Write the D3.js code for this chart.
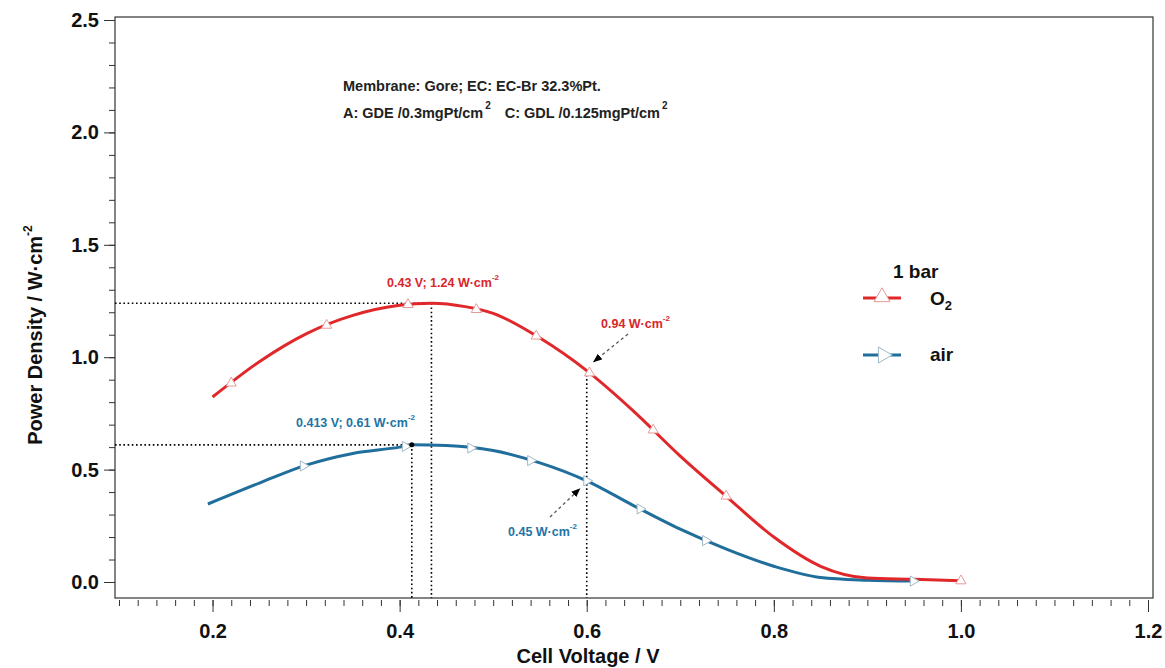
<!DOCTYPE html>
<meta charset="utf-8">
<style>
body { margin: 0; background: #fff; }
text { font-family: "Liberation Sans", Arial, sans-serif; font-weight: bold; }
.dot-line { stroke: #000; stroke-width: 1.6; stroke-dasharray: 1.6,2.6; fill: none; }
</style>
<body>
<svg width="1165" height="668"></svg>
<script src="https://d3js.org/d3.v7.min.js"></script>
<script>
// O2 curve, 1 bar (voltage / power density)
var o2_volt  = [0.20, 0.25, 0.30, 0.35, 0.40, 0.434, 0.47, 0.50, 0.55, 0.60, 0.65, 0.70, 0.75, 0.80, 0.85, 0.90, 0.95, 1.00];
var o2_power = [0.823, 0.98, 1.104, 1.186, 1.231, 1.240, 1.225, 1.195, 1.085, 0.94, 0.76, 0.56, 0.378, 0.20, 0.07, 0.018, 0.012, 0.005];
// air curve
var air_volt  = [0.195, 0.25, 0.30, 0.35, 0.40, 0.413, 0.45, 0.50, 0.55, 0.60, 0.65, 0.70, 0.75, 0.80, 0.85, 0.90, 0.95];
var air_power = [0.347, 0.44, 0.52, 0.572, 0.60, 0.61, 0.607, 0.585, 0.53, 0.45, 0.34, 0.235, 0.145, 0.07, 0.02, 0.008, 0.004];

// marker positions
var o2_mark_volt  = [0.22, 0.322, 0.409, 0.482, 0.546, 0.603, 0.671, 0.749, 1.0];
var o2_mark_power = [0.885, 1.142, 1.234, 1.212, 1.094, 0.93, 0.676, 0.382, 0.005];
var air_mark_volt  = [0.297, 0.406, 0.476, 0.54, 0.60, 0.657, 0.727, 0.949];
var air_mark_power = [0.516, 0.603, 0.596, 0.54, 0.45, 0.325, 0.184, 0.004];

var x_ticks = [0.2, 0.4, 0.6, 0.8, 1.0, 1.2];
var y_ticks = [0.0, 0.5, 1.0, 1.5, 2.0, 2.5];

// highlighted points
var o2_peak  = {v: 0.434, p: 1.24, label: "0.43 V; 1.24 W·cm"};
var air_peak = {v: 0.413, p: 0.61, label: "0.413 V; 0.61 W·cm"};
var o2_at06  = {v: 0.6, p: 0.94, label: "0.94 W·cm"};
var air_at06 = {v: 0.6, p: 0.45, label: "0.45 W·cm"};

var red = "#e0282b", blue = "#1f6e9c";
var red_txt = "#d9262b", blue_txt = "#2374a6";

var svg = d3.select("svg");

var frame = {left: 115, top: 17, right: 1153, bottom: 598};

var x = d3.scaleLinear().domain([0.1, 1.2]).range([119, 1148]);
var y = d3.scaleLinear().domain([0, 2.5]).range([582, 20]);

// frame
svg.append("rect")
  .attr("x", frame.left).attr("y", frame.top)
  .attr("width", frame.right - frame.left).attr("height", frame.bottom - frame.top)
  .style("fill", "none").style("stroke", "#333").style("stroke-width", 1.2);

// y axis, minor + major ticks
var y_minor = d3.range(0, 25.5, 1).map(function(d) { return d / 10; });
svg.append("g")
  .attr("transform", "translate(" + frame.left + ",0)")
  .call(d3.axisLeft(y).tickValues(y_minor).tickSize(6).tickFormat(""))
  .call(function(g) { g.select(".domain").remove(); });
var yAx = svg.append("g")
  .attr("transform", "translate(" + frame.left + ",0)")
  .call(d3.axisLeft(y).tickValues(y_ticks).tickSize(11).tickPadding(5).tickFormat(d3.format(".1f")));
yAx.select(".domain").remove();
yAx.selectAll("text").style("font-size", "20px").style("fill", "#111")
  .style("font-family", '"Liberation Sans", Arial, sans-serif').style("font-weight", "bold");

// x axis
var x_minor = d3.range(5, 60.5, 1).map(function(d) { return d / 50; });
svg.append("g")
  .attr("transform", "translate(0," + (frame.bottom + 2) + ")")
  .call(d3.axisBottom(x).tickValues(x_minor).tickSize(6).tickFormat(""))
  .call(function(g) { g.select(".domain").remove(); });
var xAx = svg.append("g")
  .attr("transform", "translate(0," + (frame.bottom + 2) + ")")
  .call(d3.axisBottom(x).tickValues(x_ticks).tickSize(12).tickPadding(12).tickFormat(d3.format(".1f")));
xAx.select(".domain").remove();
xAx.selectAll("text").style("font-size", "20px").style("fill", "#111")
  .style("font-family", '"Liberation Sans", Arial, sans-serif').style("font-weight", "bold");
svg.selectAll(".tick line").style("stroke", "#333");

// axis titles
svg.append("text")
  .attr("x", 588).attr("y", 663)
  .attr("text-anchor", "middle")
  .style("font-size", "20px").style("fill", "#111")
  .text("Cell Voltage / V");

var ytitle = svg.append("text")
  .attr("transform", "translate(42,335) rotate(-90)")
  .attr("text-anchor", "middle")
  .style("font-size", "20px").style("fill", "#111");
ytitle.append("tspan").text("Power Density / W·cm");
ytitle.append("tspan").attr("dy", -10).style("font-size", "12px").text("-2");

// info text
svg.append("text").attr("x", 343).attr("y", 91)
  .style("font-size", "14.5px").style("fill", "#222")
  .text("Membrane: Gore; EC: EC-Br 32.3%Pt.");
var info2 = svg.append("text").attr("x", 343).attr("y", 118)
  .style("font-size", "14.5px").style("fill", "#222");
info2.append("tspan").text("A: GDE /0.3mgPt/cm");
info2.append("tspan").attr("dy", -9).attr("dx", 2).style("font-size", "10px").text("2");
info2.append("tspan").attr("dy", 9).attr("dx", 14).text("C: GDL /0.125mgPt/cm");
info2.append("tspan").attr("dy", -9).attr("dx", 2).style("font-size", "10px").text("2");

// dotted guide lines
svg.append("line").attr("class", "dot-line")
  .attr("x1", frame.left).attr("y1", y(o2_peak.p)).attr("x2", x(o2_peak.v)).attr("y2", y(o2_peak.p));
svg.append("line").attr("class", "dot-line")
  .attr("x1", x(o2_peak.v)).attr("y1", y(o2_peak.p)).attr("x2", x(o2_peak.v)).attr("y2", frame.bottom);
svg.append("line").attr("class", "dot-line")
  .attr("x1", frame.left).attr("y1", y(air_peak.p)).attr("x2", x(air_peak.v)).attr("y2", y(air_peak.p));
svg.append("line").attr("class", "dot-line")
  .attr("x1", x(air_peak.v)).attr("y1", y(air_peak.p)).attr("x2", x(air_peak.v)).attr("y2", frame.bottom);
svg.append("line").attr("class", "dot-line")
  .attr("x1", x(o2_at06.v)).attr("y1", y(o2_at06.p)).attr("x2", x(o2_at06.v)).attr("y2", frame.bottom);

// curves
var line = d3.line()
  .x(function(d) { return x(d[0]); })
  .y(function(d) { return y(d[1]); })
  .curve(d3.curveMonotoneX);

var o2_data = o2_volt.map(function(v, i) { return [v, o2_power[i]]; });
var air_data = air_volt.map(function(v, i) { return [v, air_power[i]]; });

svg.append("path").datum(air_data).attr("d", line)
  .style("fill", "none").style("stroke", blue).style("stroke-width", 3);
svg.append("path").datum(o2_data).attr("d", line)
  .style("fill", "none").style("stroke", red).style("stroke-width", 3);

// markers
var triUp = d3.symbol().type(d3.symbolTriangle).size(45);
svg.selectAll(".o2mark")
  .data(o2_mark_volt.map(function(v, i) { return [v, o2_mark_power[i]]; }))
  .enter().append("path")
  .attr("d", triUp)
  .attr("transform", function(d) { return "translate(" + x(d[0]) + "," + y(d[1]) + ")"; })
  .style("fill", "#fff").style("stroke", "#e79a9a").style("stroke-width", 1);

svg.selectAll(".airmark")
  .data(air_mark_volt.map(function(v, i) { return [v, air_mark_power[i]]; }))
  .enter().append("path")
  .attr("d", triUp)
  .attr("transform", function(d) { return "translate(" + x(d[0]) + "," + y(d[1]) + ") rotate(90)"; })
  .style("fill", "#fff").style("stroke", "#9fb8c8").style("stroke-width", 1);

// peak dot for air
svg.append("circle").attr("cx", x(air_peak.v)).attr("cy", y(air_peak.p)).attr("r", 2.5).style("fill", "#000");

// annotations
function annot(xp, yp, txt, col) {
  var t = svg.append("text").attr("x", xp).attr("y", yp)
    .style("font-size", "12.5px").style("fill", col);
  t.append("tspan").text(txt);
  t.append("tspan").attr("dy", -7).style("font-size", "8px").text("-2");
}
annot(387, 287, o2_peak.label, red_txt);
annot(296, 427, air_peak.label, blue_txt);
annot(601, 328, o2_at06.label, red_txt);
annot(508, 536, air_at06.label, blue_txt);

// arrows
var defs = svg.append("defs");
defs.append("marker").attr("id", "ah")
  .attr("viewBox", "0 0 10 10").attr("refX", 9).attr("refY", 5)
  .attr("markerWidth", 7).attr("markerHeight", 7).attr("orient", "auto")
  .append("path").attr("d", "M0,1 L10,5 L0,9 Z").style("fill", "#000");

svg.append("line")
  .attr("x1", 628).attr("y1", 334).attr("x2", x(o2_at06.v) + 7).attr("y2", y(o2_at06.p) - 9)
  .style("stroke", "#555").style("stroke-width", 1.3).style("stroke-dasharray", "3,3")
  .attr("marker-end", "url(#ah)");
svg.append("line")
  .attr("x1", 550).attr("y1", 517).attr("x2", x(air_at06.v) - 7).attr("y2", y(air_at06.p) + 8)
  .style("stroke", "#555").style("stroke-width", 1.3).style("stroke-dasharray", "3,3")
  .attr("marker-end", "url(#ah)");

// legend
svg.append("text").attr("x", 893).attr("y", 278).style("font-size", "19px").style("fill", "#111").text("1 bar");
svg.append("line").attr("x1", 863).attr("y1", 298).attr("x2", 901).attr("y2", 298)
  .style("stroke", red).style("stroke-width", 3);
svg.append("path").attr("d", d3.symbol().type(d3.symbolTriangle).size(110))
  .attr("transform", "translate(882,297)")
  .style("fill", "#fff").style("stroke", "#e79a9a").style("stroke-width", 1);
var lo2 = svg.append("text").attr("x", 930).attr("y", 305).style("font-size", "19px").style("fill", "#111");
lo2.append("tspan").text("O");
lo2.append("tspan").attr("dy", 5).style("font-size", "13px").text("2");

svg.append("line").attr("x1", 863).attr("y1", 355).attr("x2", 901).attr("y2", 355)
  .style("stroke", blue).style("stroke-width", 3);
svg.append("path").attr("d", d3.symbol().type(d3.symbolTriangle).size(110))
  .attr("transform", "translate(883,355) rotate(90)")
  .style("fill", "#fff").style("stroke", "#9fb8c8").style("stroke-width", 1);
svg.append("text").attr("x", 930).attr("y", 361).style("font-size", "19px").style("fill", "#111").text("air");
</script>
</body>
